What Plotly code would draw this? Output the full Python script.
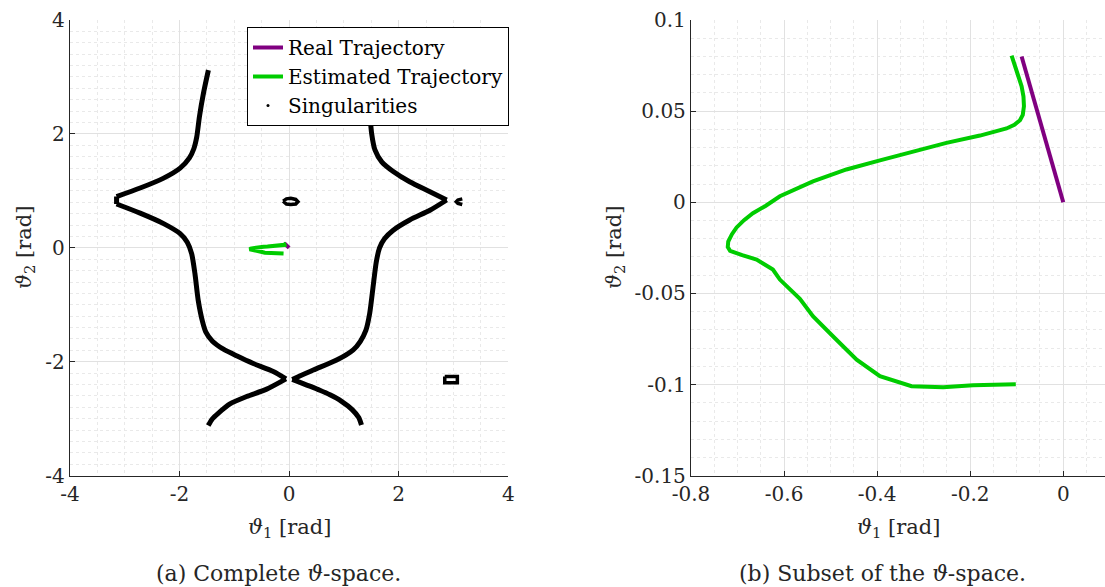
import plotly.graph_objects as go

# ---------------- data ----------------
# Singularity loci in the (theta1, theta2) plane [rad], split at the cusps
left_top_x = [-1.474, -1.565, -1.638, -1.686, -1.74, -1.82, -1.99, -2.30, -2.72, -3.15]
left_top_y = [3.12, 2.71, 2.30, 1.95, 1.74, 1.58, 1.40, 1.22, 1.05, 0.90]
left_tip_x = [-3.15, -3.15]
left_tip_y = [0.90, 0.77]
left_mid_x = [-3.15, -2.72, -2.30, -1.99, -1.86, -1.78, -1.72, -1.66, -1.58, -1.52,
              -1.40, -1.20, -0.95, -0.655, -0.29, -0.058]
left_mid_y = [0.77, 0.61, 0.43, 0.25, 0.10, -0.10, -0.45, -0.92, -1.30, -1.48,
              -1.64, -1.78, -1.90, -2.03, -2.17, -2.30]
left_low_x = [-0.058, -0.41, -0.776, -1.08, -1.29, -1.40, -1.477]
left_low_y = [-2.30, -2.48, -2.61, -2.74, -2.90, -3.00, -3.12]

right_top_x = [1.40, 1.44, 1.475, 1.505, 1.566, 1.69, 1.90, 2.20, 2.57, 2.875]
right_top_y = [3.12, 2.70, 2.33, 2.01, 1.72, 1.51, 1.34, 1.16, 0.985, 0.84]
right_mid_x = [2.875, 2.57, 2.20, 1.90, 1.74, 1.65, 1.59, 1.53, 1.47, 1.40, 1.30, 1.17, 0.867,
               0.44, 0.057]
right_mid_y = [0.84, 0.66, 0.49, 0.31, 0.16, 0.00, -0.25, -0.70, -1.15, -1.45, -1.64, -1.79, -1.97,
               -2.145, -2.31]
right_low_x = [0.057, 0.56, 0.745, 0.95, 1.15, 1.27, 1.32]
right_low_y = [-2.31, -2.50, -2.58, -2.69, -2.84, -2.98, -3.11]

# Small isolated singular sets
blob_a_x = [-0.11, -0.05, 0.03, 0.12, 0.16, 0.12, 0.03, -0.05, -0.11]
blob_a_y = [0.82, 0.86, 0.87, 0.85, 0.81, 0.77, 0.76, 0.77, 0.82]
blob_b_x = [3.16, 3.08, 3.05, 3.08, 3.16]
blob_b_y = [0.86, 0.84, 0.81, 0.78, 0.76]
blob_c_x = [2.84, 3.07, 3.07, 2.84, 2.84]
blob_c_y = [-2.26, -2.26, -2.37, -2.37, -2.26]

# Joint-space trajectories [rad]
real_x = [0.0, -0.0895]
real_y = [0.0, 0.080]

est_x = [-0.102, -0.194, -0.258, -0.326, -0.394, -0.444, -0.495, -0.538, -0.566, -0.609,
         -0.624, -0.659, -0.690, -0.706, -0.716, -0.721, -0.720, -0.712, -0.702, -0.686,
         -0.667, -0.640, -0.609, -0.538, -0.466, -0.394, -0.323, -0.251, -0.179, -0.140,
         -0.122, -0.105, -0.093, -0.087, -0.0845, -0.0855, -0.0895, -0.111]
est_y = [-0.0998, -0.1004, -0.1015, -0.1009, -0.0954, -0.0863, -0.0735, -0.0625, -0.0530, -0.0424,
         -0.0369, -0.0314, -0.0290, -0.0278, -0.0266, -0.0245, -0.0215, -0.0175, -0.0138, -0.0098,
         -0.0060, -0.0020, 0.0033, 0.0115, 0.0180, 0.0230, 0.0280, 0.0326, 0.0366, 0.0390,
         0.0405, 0.0425, 0.0450, 0.0480, 0.0527, 0.0580, 0.0636, 0.0805]

# Tick labels
left_ticks = [-4, -2, 0, 2, 4]
left_tick_text = ["-4", "-2", "0", "2", "4"]
right_xticks = [-0.8, -0.6, -0.4, -0.2, 0]
right_xtick_text = ["-0.8", "-0.6", "-0.4", "-0.2", "0"]
right_yticks = [-0.15, -0.1, -0.05, 0, 0.05, 0.1]
right_ytick_text = ["-0.15", "-0.1", "-0.05", "0", "0.05", "0.1"]

# ---------------- style ----------------
FONT = "DejaVu Serif, Liberation Serif, serif"
PURPLE = "#800080"
GREEN = "#00CC00"
AXCOL = "#262626"
GRID = "#e1e1e1"
MINOR = "#e9e9e9"

fig = go.Figure()

arms = [(left_top_x, left_top_y), (left_tip_x, left_tip_y), (left_mid_x, left_mid_y),
        (left_low_x, left_low_y), (right_top_x, right_top_y), (right_mid_x, right_mid_y),
        (right_low_x, right_low_y)]
for xs, ys in arms:
    fig.add_trace(go.Scatter(x=xs, y=ys, mode="lines",
                             line=dict(color="black", width=5, shape="spline", smoothing=0.7),
                             showlegend=False, xaxis="x", yaxis="y"))
for xs, ys in [(blob_a_x, blob_a_y), (blob_b_x, blob_b_y), (blob_c_x, blob_c_y)]:
    fig.add_trace(go.Scatter(x=xs, y=ys, mode="lines", line=dict(color="black", width=3.5),
                             showlegend=False, xaxis="x", yaxis="y"))

# trajectories on the full space
fig.add_trace(go.Scatter(x=real_x, y=real_y, mode="lines", name="Real Trajectory",
                         line=dict(color=PURPLE, width=4), xaxis="x", yaxis="y"))
fig.add_trace(go.Scatter(x=est_x, y=est_y, mode="lines", name="Estimated Trajectory",
                         line=dict(color=GREEN, width=4), xaxis="x", yaxis="y"))
# legend entry for singular points
fig.add_trace(go.Scatter(x=[None], y=[None], mode="markers", name="Singularities",
                         marker=dict(color="black", size=3), xaxis="x", yaxis="y"))

# zoomed-in subset
fig.add_trace(go.Scatter(x=est_x, y=est_y, mode="lines", showlegend=False,
                         line=dict(color=GREEN, width=4), xaxis="x2", yaxis="y2"))
fig.add_trace(go.Scatter(x=real_x, y=real_y, mode="lines", showlegend=False,
                         line=dict(color=PURPLE, width=4), xaxis="x2", yaxis="y2"))

W, H = 1105, 587
ytop, ybot = 20, 475.7
ydom = [(H - ybot) / H, (H - ytop) / H]

TICKFONT = dict(family=FONT, size=20, color=AXCOL)
TITLEFONT = dict(family=FONT, size=21, color=AXCOL)
CAPFONT = dict(family=FONT, size=22, color=AXCOL)


def make_axis(domain, rng, tickvals, ticktext, minor_dtick, anchor):
    return dict(domain=domain, range=rng, anchor=anchor, automargin=False,
                showgrid=True, gridcolor=GRID, gridwidth=1, zeroline=False,
                showline=True, linecolor=AXCOL, linewidth=1.3, mirror=False,
                ticks="inside", ticklen=5, tickcolor=AXCOL, tickwidth=1,
                tickmode="array", tickvals=tickvals, ticktext=ticktext,
                tickfont=TICKFONT,
                minor=dict(dtick=minor_dtick, showgrid=True, gridcolor=MINOR,
                           griddash="dot", ticks=""))


T1 = "<i>ϑ</i><sub>1</sub> [rad]"
T2 = "<i>ϑ</i><sub>2</sub> [rad]"


def label(text, x, y, font, angle=0):
    return dict(text=text, x=x / W, y=(H - y) / H, xref="paper", yref="paper",
                showarrow=False, xanchor="center", yanchor="middle", textangle=angle,
                font=font)


fig.update_layout(
    width=W, height=H,
    margin=dict(l=0, r=0, t=0, b=0),
    paper_bgcolor="white", plot_bgcolor="white",
    font=dict(family=FONT, size=20, color=AXCOL),
    xaxis=make_axis([70 / W, 508.3 / W], [-4, 4], left_ticks, left_tick_text, 0.5, "y"),
    yaxis=make_axis(ydom, [-4, 4], left_ticks, left_tick_text, 0.2, "x"),
    xaxis2=make_axis([691 / W, 1.0], [-0.8, 0.0897], right_xticks, right_xtick_text, 0.05, "y2"),
    yaxis2=make_axis(ydom, [-0.15, 0.1], right_yticks, right_ytick_text, 0.01, "x2"),
    showlegend=True,
    legend=dict(x=247 / W, y=(H - 27) / H, xanchor="left", yanchor="top",
                bgcolor="white", bordercolor="black", borderwidth=1,
                font=dict(family=FONT, size=20, color="black"),
                itemwidth=30, tracegroupgap=0),
    annotations=[
        # axis titles
        label(T1, 289, 528, TITLEFONT),
        label(T2, 25, 248, TITLEFONT, -90),
        label(T1, 898, 528, TITLEFONT),
        label(T2, 615, 248, TITLEFONT, -90),
        # sub-figure captions
        label("(a) Complete <i>ϑ</i>-space.", 278, 573, CAPFONT),
        label("(b) Subset of the <i>ϑ</i>-space.", 882, 573, CAPFONT),
    ],
)

fig.write_html("out.html")
